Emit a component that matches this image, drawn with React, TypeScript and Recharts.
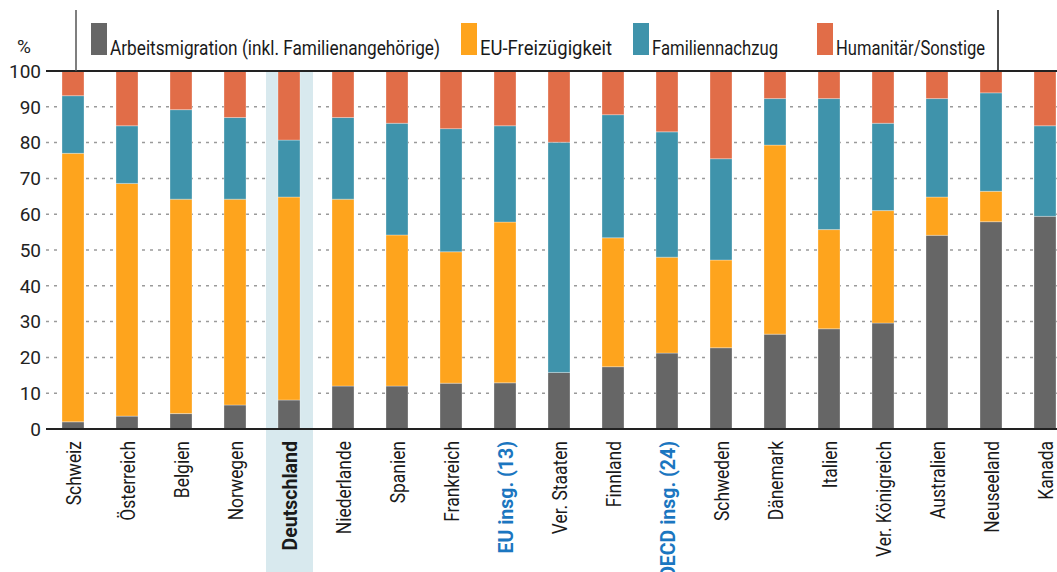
import { BarChart, Bar, XAxis, YAxis, CartesianGrid, ReferenceArea, ReferenceLine } from 'recharts';

const countries = ['Schweiz', 'Österreich', 'Belgien', 'Norwegen', 'Deutschland', 'Niederlande', 'Spanien', 'Frankreich', 'EU insg. (13)', 'Ver. Staaten', 'Finnland', 'OECD insg. (24)', 'Schweden', 'Dänemark', 'Italien', 'Ver. Königreich', 'Australien', 'Neuseeland', 'Kanada'];
const arbeit = [2.0, 3.6, 4.3, 6.7, 8.1, 12.0, 12.0, 12.8, 12.9, 15.8, 17.4, 21.2, 22.7, 26.5, 28.0, 29.6, 54.1, 57.9, 59.4];
const euFrei = [75.0, 65.0, 59.9, 57.5, 56.7, 52.2, 42.2, 36.7, 44.9, 0, 36.0, 26.8, 24.5, 52.8, 27.7, 31.4, 10.7, 8.5, 0];
const familie = [16.1, 16.1, 25.0, 22.8, 15.9, 22.8, 31.2, 34.4, 26.9, 64.3, 34.4, 35.0, 28.3, 13.0, 36.6, 24.4, 27.5, 27.5, 25.3];
const humanitaer = [6.9, 15.3, 10.8, 13.0, 19.3, 13.0, 14.6, 16.1, 15.3, 19.9, 12.2, 17.0, 24.5, 7.7, 7.7, 14.6, 7.7, 6.1, 15.3];
const yTicks = [0, 10, 20, 30, 40, 50, 60, 70, 80, 90, 100];

const highlighted = 'Deutschland';
const aggregates = ['EU insg. (13)', 'OECD insg. (24)'];

const series = [
  { key: 'arbeit', label: 'Arbeitsmigration (inkl. Familienangehörige)', color: '#666666' },
  { key: 'euFrei', label: 'EU-Freizügigkeit', color: '#fea41d' },
  { key: 'familie', label: 'Familiennachzug', color: '#3f93ab' },
  { key: 'humanitaer', label: 'Humanitär/Sonstige', color: '#e16d48' },
];

// legend placement (x of swatch, text width)
const legendPos = [
  { x: 91, w: 330 },
  { x: 461, w: 132 },
  { x: 633, w: 126 },
  { x: 817, w: 149 },
];

const data = countries.map((name, i) => ({
  name,
  arbeit: arbeit[i],
  euFrei: euFrei[i],
  familie: familie[i],
  humanitaer: humanitaer[i],
}));

const FONT = 'Roboto, "Noto Sans", sans-serif';

const CountryTick = (props: any) => {
  const { x, y, payload } = props;
  const bold = payload.value === highlighted || aggregates.includes(payload.value);
  const color = aggregates.includes(payload.value) ? '#1b76c0' : '#1a1a1a';
  return (
    <g transform={`translate(${x},${y}) rotate(-90) scale(${bold ? 0.93 : 0.83},1)`}>
      <text x={0} y={0} dy="0.36em" textAnchor="end" fill={color} fontSize={21}
        fontWeight={bold ? 700 : 400} fontFamily={FONT}>
        {payload.value}
      </text>
    </g>
  );
};

const HighlightShape = (props: any) => {
  const { x, y, width } = props;
  return <rect x={x + 4} y={y} width={width - 7} height={572 - y} fill="#d8e9ee" />;
};

const App = () => {
  return (
    <div style={{ position: 'absolute', left: 0, top: 0, width: 1057, height: 572, overflow: 'hidden', background: '#fff', fontFamily: FONT }}>
      <BarChart width={1100} height={572} data={data} margin={{ top: 71, right: 28, bottom: 13, left: 0 }} barSize={22}>
        <CartesianGrid vertical={false} stroke="#9a9a9a" strokeDasharray="3 5" strokeWidth={1.5} />
        <ReferenceArea x1={highlighted} x2={highlighted} y1={0} y2={100} ifOverflow="visible" shape={<HighlightShape />} />
        <XAxis dataKey="name" interval={0} height={130} tickLine={false} tickSize={0} tickMargin={12}
          axisLine={{ stroke: '#222', strokeWidth: 2 }} tick={<CountryTick />} />
        <YAxis width={46} domain={[0, 100]} ticks={yTicks} interval={0} axisLine={false} tickLine={false}
          tickSize={0} tickMargin={5} tick={{ fontSize: 19, fill: '#222', fontFamily: FONT }} />
        {series.map(s => (
          <Bar key={s.key} dataKey={s.key} stackId="a" fill={s.color} stroke="#ffffff" strokeOpacity={0.3}
            strokeWidth={1} isAnimationActive={false} />
        ))}
        <ReferenceLine y={100} stroke="#222" strokeWidth={2} />
      </BarChart>

      <svg width={1057} height={72} style={{ position: 'absolute', left: 0, top: 0, pointerEvents: 'none' }}>
        <line x1={76} y1={10} x2={76} y2={71} stroke="#555" strokeWidth={1.5} />
        <line x1={998} y1={10} x2={998} y2={71} stroke="#111" strokeWidth={1.5} />
        <text x={24} y={53} textAnchor="middle" fontSize={19} fill="#222" fontFamily={FONT}>%</text>
        {series.map((s, i) => (
          <g key={s.key}>
            <rect x={legendPos[i].x} y={23} width={16} height={32} fill={s.color} />
            <text x={legendPos[i].x + 19} y={55} fontSize={21} fill="#1a1a1a" fontFamily={FONT}
              textLength={legendPos[i].w} lengthAdjust="spacingAndGlyphs">
              {s.label}
            </text>
          </g>
        ))}
      </svg>
    </div>
  );
};

export default App;
